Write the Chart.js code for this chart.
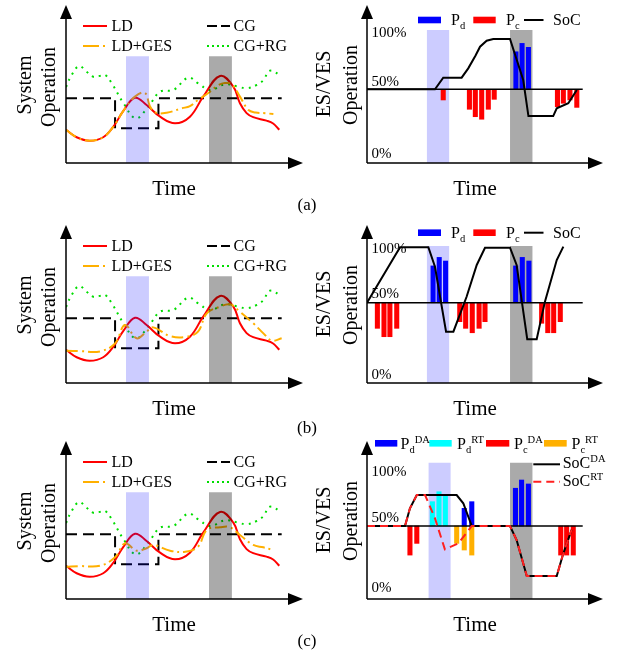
<!DOCTYPE html>
<html>
<head>
<meta charset="utf-8">
<script src="https://cdn.jsdelivr.net/npm/chart.js@4.4.0/dist/chart.umd.min.js"></script>
<style>
  body { margin: 0; background: #fff; }
  #fig { position: relative; width: 618px; height: 655px; overflow: hidden;
         font-family: 'Liberation Serif', 'Times New Roman', serif; color: #000; }
  #fig canvas { position: absolute; }
  #keys { position: absolute; left: 0; top: 0; }
  .t { position: absolute; white-space: nowrap; line-height: 1; }
  .t sub, .t sup { font-size: 0.66em; line-height: 0; }
</style>
</head>
<body>
<div id="fig">
  <svg id="keys" width="618" height="655"></svg>
</div>
<script>
// ---- data (x = time 0..100, y = level 0..100) ----

// left panels: load, generation
const ldTime  = [0, 4.5, 10, 15.7, 20, 24.2, 29.1, 34, 39.7, 46, 52.3, 57.9, 65, 70.6, 73.4, 76.2, 79, 84.6, 87.4, 90];
const ldLevel = [21, 16.3, 14.1, 16.3, 23, 33, 41.3, 36.7, 29.3, 25.1, 29.3, 42, 55.1, 48.3, 37.8, 31.6, 29, 26.8, 25, 21];
const cgTime  = [0, 20.7, 20.7, 39, 39, 91];
const cgLevel = [41, 41, 22, 22, 41, 41];
const rgTime  = [0, 2.5, 5.6, 8.5, 11.5, 14, 16.5, 19.3, 24.6, 29.5, 34.7, 39.7, 45.3, 51.6, 55.8, 60.8, 67.1, 72.7, 76.2, 80.5, 83.3, 86, 91];
const rgLevel = [48, 56, 61.4, 58, 54.6, 55, 55.7, 50.4, 37, 28.3, 35.6, 45.1, 46.2, 54, 50.4, 46.2, 49.8, 48.3, 47.3, 49.4, 52.5, 58.4, 55];

const gesTimeA  = [0, 4.5, 10, 15.7, 20, 24.2, 29.1, 33.3, 35.4, 37.6, 42.5, 48.8, 52.3, 55.7, 60.8, 64, 67, 70, 73.4, 77, 80, 84, 87.5];
const gesLevelA = [21, 16.3, 14.1, 16.3, 23, 33, 42, 44.3, 36, 32, 31.8, 34.6, 36, 39.9, 45.1, 49, 50.6, 49.8, 42, 33.5, 32, 31.5, 31];
const gesTimeB  = [0, 6, 14.3, 20.7, 24.9, 29.8, 34, 36.8, 43.9, 50.9, 55.7, 59.4, 65, 69.2, 73.4, 79, 83.3, 86.9, 91];
const gesLevelB = [20.4, 20.2, 20, 25.1, 36.7, 28.3, 32.5, 35.2, 29.7, 29.3, 32.5, 44.1, 48.3, 49.8, 45.1, 37.8, 31.4, 26.8, 28.3];
const gesTimeC  = [0, 6, 14.3, 20.7, 24.9, 29.8, 34, 36.8, 43.9, 50.3, 55.7, 59.4, 65, 69.2, 73.4, 79, 83.3, 86.5];
const gesLevelC = [20.4, 20.8, 21, 26.4, 35.2, 30.6, 32.1, 34.2, 30.6, 29.9, 33.1, 43.7, 45.4, 45.4, 40.5, 34.2, 32.7, 31.4];

// shaded periods
const windowBlueL = [25.3, 35];
const windowGrayL = [60.3, 70];
const windowTopL = 67.5;
const windowBlueR = [[25.3, 34.9], [25.3, 34.9], [26, 35.5]];
const windowGrayR = [60.6, 70.2];
const windowTopR = [84.2, 86.7, 86.3];

// right panels: 50% SoC level and its line end
const halfLevel = [46.6, 50.8, 46.2];
const halfEnd = 91.4;

// (a)
const socTimeA = [0, 28.8, 32.3, 40.1, 42.9, 46, 47.9, 50.7, 53.5, 60.6, 66.2, 68.4, 78.9, 80.4, 85.3, 88.9];
const socA     = [46.6, 46.6, 54, 54, 59.9, 68, 73.6, 77.4, 78.5, 78.5, 52.5, 29.7, 29.7, 34.6, 37.8, 46.2];
const pcTimeA  = [32.3, 43.4, 45.9, 48.6, 51.4, 53.9, 80.7, 83.2, 86, 88.9];
const pcA      = [39.9, 34, 29.3, 27.7, 34, 40.3, 35.6, 37.8, 39.9, 35.2];
const pdTimeA  = [63.1, 65.7, 68.4];
const pdA      = [70.4, 75.7, 73.2];

// (b)
const socTimeB = [0, 14, 26, 28.8, 33.5, 36.6, 42.2, 46.5, 50, 60.6, 63.4, 67.9, 71.9, 75.4, 80.4, 83.2];
const socB     = [50.8, 85.9, 85.9, 73.6, 32.5, 32.5, 54.6, 74.7, 85.6, 85.6, 74.7, 27.7, 27.7, 51.5, 77.8, 86.3];
const pcTimeB  = [4.4, 7.2, 9.7, 12.6, 39.3, 41.8, 44.6, 47.5, 50, 74, 76.6, 79.1, 81.9];
const pcB      = [34.6, 29.3, 29.3, 34.6, 38.8, 34.6, 31.8, 34.6, 38.8, 37.8, 31.8, 31.8, 38.8];
const pdTimeB  = [28, 30.6, 33.3, 63, 65.8, 68.6];
const pdB      = [74.1, 79.5, 77.2, 74.1, 79.5, 77.2];

// (c)
const socTimeDA = [0, 16.1, 18.2, 21.1, 38, 40.8, 44.4, 60.6, 63.4, 67.7, 80.4, 83.2, 86.7];
const socDA     = [46.2, 46.2, 57.4, 65.8, 65.8, 60.6, 46.2, 46.2, 37.3, 14.6, 14.6, 28.9, 43.7];
const socTimeRT = [0, 16.1, 18.2, 21.1, 24.6, 28.8, 33, 38.7, 44.4, 60.6, 63.4, 67.7, 80.4, 83.2, 86.7];
const socRT     = [46.2, 46.2, 57.4, 65.8, 65.8, 51.1, 31.4, 35.2, 46.2, 46.2, 37.3, 14.6, 14.6, 28.9, 43.7];
const pdTimeDA  = [41.2, 44.4, 62.9, 65.5, 68.4];
const pdDA      = [57.4, 61.6, 70.1, 75.3, 72.8];
const pdTimeRT  = [27.7, 30.5, 33.2];
const pdRT      = [61.6, 67.9, 65.8];
const pcTimeDA  = [18.2, 21.1, 82.1, 84.6, 87.4];
const pcDA      = [27.8, 35.2, 27.8, 27.8, 27.8];
const pcTimeRT  = [38, 41.2, 44.4];
const pcRT      = [35.2, 31, 27.8];

const rowTops = [0, 220, 436];
const panelTags = ['(a)', '(b)', '(c)'];

// ---- helpers ----
const fig = document.getElementById('fig');
const keys = document.getElementById('keys');
const pts = (xs, ys) => xs.map((x, i) => ({ x: x, y: ys[i] }));

function addCanvas(left, top) {
  const c = document.createElement('canvas');
  c.width = 256; c.height = 170;
  c.style.left = left + 'px'; c.style.top = top + 'px';
  fig.insertBefore(c, keys);
  return c;
}

function text(html, x, y, size, mode) {
  const d = document.createElement('div');
  d.className = 't';
  d.innerHTML = html;
  d.style.left = x + 'px';
  d.style.top = y + 'px';
  d.style.fontSize = size + 'px';
  let tf = mode === 'left' ? 'translate(0,-50%)' : 'translate(-50%,-50%)';
  if (mode === 'rot') tf += ' rotate(-90deg)';
  d.style.transform = tf;
  fig.appendChild(d);
}

function svgEl(tag, attrs) {
  const e = document.createElementNS('http://www.w3.org/2000/svg', tag);
  for (const k in attrs) e.setAttribute(k, attrs[k]);
  keys.appendChild(e);
}
function keyLine(x1, x2, y, color, w, dash) {
  svgEl('line', { x1: x1, y1: y, x2: x2, y2: y, stroke: color, 'stroke-width': w, 'stroke-dasharray': dash || 'none' });
}
function keyBox(x1, x2, y, color) {
  svgEl('rect', { x: x1, y: y - 3.3, width: x2 - x1, height: 6.6, fill: color });
}

function line(data, color, width, dash, tension) {
  return { type: 'line', data: data, borderColor: color, borderWidth: width, borderDash: dash,
           tension: tension, fill: false, pointRadius: 0 };
}
function band(xs, top, color) {
  return { type: 'line', data: xs.map(x => ({ x: x, y: top })), fill: 'origin',
           backgroundColor: color, borderColor: 'rgba(0,0,0,0)', borderWidth: 0, pointRadius: 0 };
}
function bars(xs, ys, base, color) {
  return { type: 'bar', data: xs.map((x, i) => ({ x: x, y: [base, ys[i]] })),
           backgroundColor: color, borderWidth: 0, barThickness: 4.4, grouped: false };
}

const axesArrows = {
  id: 'axesArrows',
  afterDatasetsDraw(chart) {
    const { ctx, chartArea, scales } = chart;
    const x0 = scales.x.getPixelForValue(0), y0 = scales.y.getPixelForValue(0);
    const top = chartArea.top, right = chartArea.right;
    ctx.save();
    ctx.strokeStyle = '#000'; ctx.fillStyle = '#000'; ctx.lineWidth = 1.5;
    ctx.beginPath();
    ctx.moveTo(x0, y0); ctx.lineTo(x0, top + 10);
    ctx.moveTo(x0, y0); ctx.lineTo(right - 10, y0);
    ctx.stroke();
    ctx.beginPath();
    ctx.moveTo(x0, top); ctx.lineTo(x0 - 6, top + 14); ctx.lineTo(x0 + 6, top + 14); ctx.closePath();
    ctx.fill();
    ctx.beginPath();
    ctx.moveTo(right, y0); ctx.lineTo(right - 15, y0 - 6); ctx.lineTo(right - 15, y0 + 6); ctx.closePath();
    ctx.fill();
    ctx.restore();
  }
};

function options(padRight) {
  return {
    responsive: false, animation: false, events: [],
    layout: { padding: { left: 10, right: padRight, top: 5, bottom: 7 } },
    plugins: { legend: { display: false }, tooltip: { enabled: false } },
    scales: {
      x: { type: 'linear', min: 0, max: 100, display: false, offset: false },
      y: { type: 'linear', min: 0, max: 100, display: false }
    }
  };
}

// ---- left panels ----
const gesSets = [[gesTimeA, gesLevelA], [gesTimeB, gesLevelB], [gesTimeC, gesLevelC]];
gesSets.forEach((ges, r) => {
  const top = rowTops[r];
  new Chart(addCanvas(56, top), {
    type: 'line',
    data: { datasets: [
      band(windowBlueL, windowTopL, 'rgba(0,0,255,0.2)'),
      band(windowGrayL, windowTopL, 'rgba(0,0,0,0.333)'),
      line(pts(ges[0], ges[1]), '#FFB000', 2, [12, 4, 2, 4], 0.4),
      line(pts(ldTime, ldLevel), '#FF0000', 2, [], 0.4),
      line(pts(cgTime, cgLevel), '#000000', 2, [11, 6], 0),
      line(pts(rgTime, rgLevel), '#00DD00', 2, [2, 5], 0.4)
    ] },
    options: options(9),
    plugins: [axesArrows]
  });

  keyLine(83, 107, top + 26, '#FF0000', 2);
  keyLine(207, 230, top + 26, '#000', 2, '10 4');
  keyLine(83, 107, top + 46, '#FFB000', 2, '16 4 2 4');
  keyLine(207, 230, top + 46, '#00DD00', 2, '2 3');
  text('LD', 111.5, top + 26.3, 16, 'left');
  text('CG', 233.5, top + 26.3, 16, 'left');
  text('LD+GES', 111.5, top + 46.3, 16, 'left');
  text('CG+RG', 233.5, top + 46.3, 16, 'left');

  text('System', 24, top + 85, 20, 'rot');
  text('Operation', 48, top + 87, 20, 'rot');
  text('Time', 174, top + 187.5, 21);
  text(panelTags[r], 307, top + (r === 2 ? 204 : 203.5 + r * 3), 17);
});

// ---- right panels ----
const rightSets = [
  [line(pts(socTimeA, socA), '#000', 2, [], 0),
   bars(pdTimeA, pdA, halfLevel[0], '#0000FF'),
   bars(pcTimeA, pcA, halfLevel[0], '#FF0000')],
  [line(pts(socTimeB, socB), '#000', 2, [], 0),
   bars(pdTimeB, pdB, halfLevel[1], '#0000FF'),
   bars(pcTimeB, pcB, halfLevel[1], '#FF0000')],
  [line(pts(socTimeRT, socRT), '#FF2020', 2, [8, 5], 0),
   line(pts(socTimeDA, socDA), '#000', 2, [], 0),
   bars(pdTimeDA, pdDA, halfLevel[2], '#0000FF'),
   bars(pdTimeRT, pdRT, halfLevel[2], '#00FFFF'),
   bars(pcTimeDA, pcDA, halfLevel[2], '#FF0000'),
   bars(pcTimeRT, pcRT, halfLevel[2], '#FFB000')]
];
const percentY = [[31.7, 81, 153], [28.3, 73.3, 154.3], [35, 80.7, 151.3]];

rightSets.forEach((sets, r) => {
  const top = rowTops[r];
  const half = halfLevel[r];
  const ds = [sets[0]];
  if (r === 2) ds.push(sets[1]);
  ds.push(line([{ x: 0, y: half }, { x: halfEnd, y: half }], '#000', 1.5, [], 0));
  sets.slice(r === 2 ? 2 : 1).forEach(s => ds.push(s));
  ds.push(band(windowBlueR[r], windowTopR[r], '#CCCCFF'));
  ds.push(band(windowGrayR, windowTopR[r], '#AAAAAA'));
  new Chart(addCanvas(357, top), {
    type: 'bar',
    data: { datasets: ds },
    options: options(10),
    plugins: [axesArrows]
  });

  text('100%', 371.5, top + percentY[r][0], 15, 'left');
  text('50%', 371.5, top + percentY[r][1], 15, 'left');
  text('0%', 371.5, top + percentY[r][2], 15, 'left');
  text('ES/VES', 323, top + 84, 20, 'rot');
  text('Operation', 350, top + 85, 20, 'rot');
  text('Time', 475, top + 187.5, 21);
});

// legends of right panels (a), (b)
[20, 232.7].forEach(y => {
  keyBox(418, 441, y, '#0000FF');
  keyBox(473.3, 495.7, y, '#FF0000');
  keyLine(524, 543.5, y, '#000', 2);
  text('P<sub>d</sub>', 451, y + 0.2, 16, 'left');
  text('P<sub>c</sub>', 506, y + 0.2, 16, 'left');
  text('SoC', 553, y + 0.2, 16, 'left');
});

// legend of right panel (c)
keyBox(375, 397.3, 443.3, '#0000FF');
keyBox(429.3, 451.7, 443.3, '#00FFFF');
keyBox(486, 509.3, 443.3, '#FF0000');
keyBox(544, 566.7, 443.3, '#FFB000');
text('P<sub>d</sub><sup>DA</sup>', 400.5, 444, 16, 'left');
text('P<sub>d</sub><sup>RT</sup>', 457, 444, 16, 'left');
text('P<sub>c</sub><sup>DA</sup>', 514, 444, 16, 'left');
text('P<sub>c</sub><sup>RT</sup>', 571.5, 444, 16, 'left');
keyLine(533.3, 560, 464.3, '#000', 2);
keyLine(533.3, 560, 481.7, '#FF2020', 2, '8 5');
text('SoC<sup>DA</sup>', 562.7, 463, 16, 'left');
text('SoC<sup>RT</sup>', 562.7, 480.5, 16, 'left');
</script>
</body>
</html>
